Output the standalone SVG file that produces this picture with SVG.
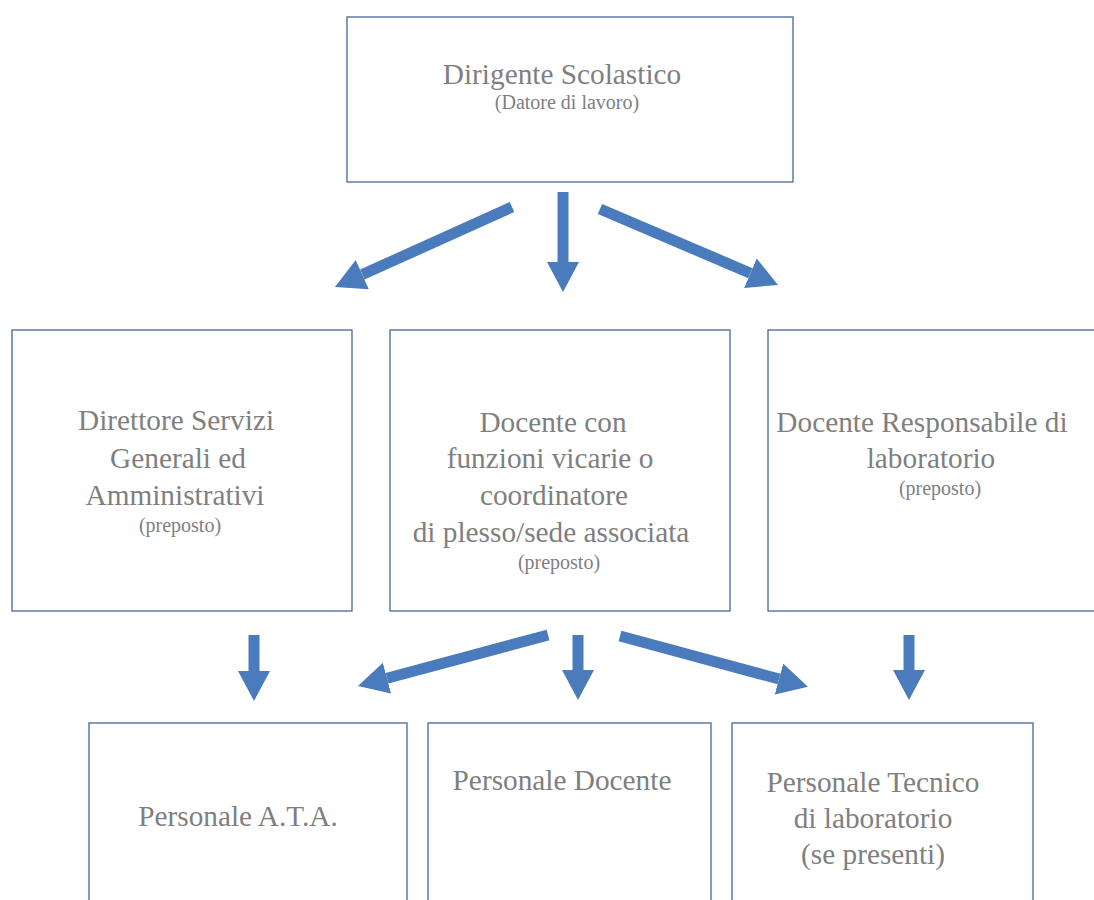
<svg xmlns="http://www.w3.org/2000/svg" width="1094" height="900" viewBox="0 0 1094 900">
<style>
.box{fill:#ffffff;stroke:#46679c;stroke-width:1.3}
.t{font-family:'Liberation Serif','DejaVu Serif',serif;fill:#7f7f7f;text-anchor:middle}
.big{font-size:29.3px}
.small{font-size:20px}
.arr{stroke:#4a7bbd;stroke-width:11;fill:none;marker-end:url(#head)}
</style>
<defs>
<marker id="head" markerUnits="userSpaceOnUse" viewBox="0 0 30 32" markerWidth="30" markerHeight="32" refX="0" refY="16" orient="auto">
<path d="M0,0 L30,16 L0,32 Z" fill="#4a7bbd"/>
</marker>
</defs>
<rect width="1094" height="900" fill="#ffffff"/>
<g id="connectors">
<line class="arr" x1="512" y1="207" x2="362.3" y2="274.6"/>
<line class="arr" x1="563" y1="192" x2="563" y2="262"/>
<line class="arr" x1="600" y1="209" x2="750.4" y2="273.2"/>
<line class="arr" x1="254" y1="635" x2="254" y2="671"/>
<line class="arr" x1="548" y1="635" x2="387" y2="678.2"/>
<line class="arr" x1="578" y1="635" x2="578" y2="670"/>
<line class="arr" x1="620" y1="636" x2="779" y2="679"/>
<line class="arr" x1="909" y1="635" x2="909" y2="670"/>
</g>
<g id="dirigente">
<rect class="box" x="347" y="17" width="446" height="165"/>
<text class="t big" x="562" y="84">Dirigente Scolastico</text>
<text class="t small" x="567" y="109">(Datore di lavoro)</text>
</g>
<g id="dsga">
<rect class="box" x="12" y="330" width="340" height="281"/>
<text class="t big" x="176" y="430">Direttore Servizi</text>
<text class="t big" x="178" y="468">Generali ed</text>
<text class="t big" x="175" y="505">Amministrativi</text>
<text class="t small" x="180" y="532">(preposto)</text>
</g>
<g id="vicario">
<rect class="box" x="390" y="330" width="340" height="281"/>
<text class="t big" x="553" y="432">Docente con</text>
<text class="t big" x="550" y="468">funzioni vicarie o</text>
<text class="t big" x="554" y="505">coordinatore</text>
<text class="t big" x="551" y="542">di plesso/sede associata</text>
<text class="t small" x="559" y="569">(preposto)</text>
</g>
<g id="resp-lab">
<rect class="box" x="768" y="330" width="340" height="281"/>
<text class="t big" x="922" y="432">Docente Responsabile di</text>
<text class="t big" x="931" y="468">laboratorio</text>
<text class="t small" x="940" y="495">(preposto)</text>
</g>
<g id="ata">
<rect class="box" x="89" y="723" width="318" height="190"/>
<text class="t big" x="238" y="826">Personale A.T.A.</text>
</g>
<g id="docenti">
<rect class="box" x="428" y="723" width="283" height="190"/>
<text class="t big" x="562" y="790">Personale Docente</text>
</g>
<g id="tecnici">
<rect class="box" x="732" y="723" width="301" height="190"/>
<text class="t big" x="873" y="792">Personale Tecnico</text>
<text class="t big" x="873" y="828">di laboratorio</text>
<text class="t big" x="873" y="864">(se presenti)</text>
</g>
</svg>
